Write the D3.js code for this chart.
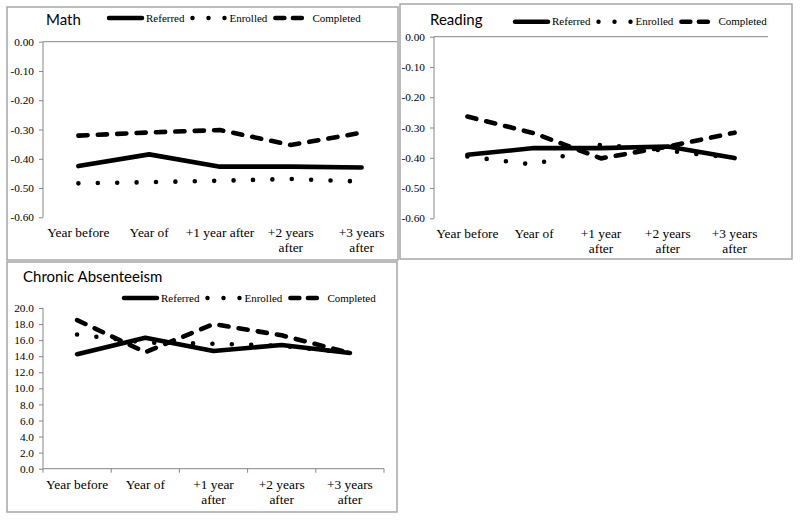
<!DOCTYPE html>
<html>
<head>
<meta charset="utf-8">
<script src="https://cdn.jsdelivr.net/npm/d3@7/dist/d3.min.js"></script>
<style>
  html, body { margin: 0; padding: 0; background: #fff; }
  svg { display: block; }
</style>
</head>
<body>
<script>
// ---------- DATA ----------
const categories = ["Year before", "Year of", "+1 year after", "+2 years after", "+3 years after"];
const seriesNames = ["Referred", "Enrolled", "Completed"];

const mathReferred  = [-0.425, -0.385, -0.427, -0.427, -0.430];
const mathEnrolled  = [-0.484, -0.480, -0.475, -0.469, -0.478];
const mathCompleted = [-0.321, -0.310, -0.302, -0.353, -0.311];

const readingReferred  = [-0.390, -0.368, -0.368, -0.363, -0.401];
const readingEnrolled  = [-0.396, -0.423, -0.357, -0.377, -0.401];
const readingCompleted = [-0.264, -0.319, -0.402, -0.363, -0.317];

const absentReferred  = [14.25, 16.3, 14.65, 15.4, 14.4];
const absentEnrolled  = [16.7, 15.7, 15.55, 15.3, 14.4];
const absentCompleted = [18.5, 14.5, 18.0, 16.6, 14.4];

const scoreTicks  = [0, -0.1, -0.2, -0.3, -0.4, -0.5, -0.6];
const absentTicks = [0, 2, 4, 6, 8, 10, 12, 14, 16, 18, 20];

// ---------- STYLES ----------
const serif = "'Liberation Serif', 'Times New Roman', serif";
const sans = "Lato, 'Noto Sans', sans-serif";
const axisColor = "#868686";
const styles = {
  Referred:  { dash: null,       sampleDash: null },
  Enrolled:  { dash: "0,19.4",   sampleDash: "0,16" },
  Completed: { dash: "9.2,10.2", sampleDash: "9,8.5" }
};

const svg = d3.select("body").append("svg")
  .attr("width", 800).attr("height", 521);

function wrapLabel(textSel, maxW) {
  textSel.each(function(d) {
    const t = d3.select(this);
    const words = d.split(" ");
    t.text(d);
    if (this.getComputedTextLength() <= maxW) return;
    t.text(null);
    let lines = [], cur = [];
    const probe = t.append("tspan");
    words.forEach(w => {
      const trial = cur.concat([w]).join(" ");
      probe.text(trial);
      if (probe.node().getComputedTextLength() > maxW && cur.length) {
        lines.push(cur.join(" "));
        cur = [w];
      } else cur.push(w);
    });
    lines.push(cur.join(" "));
    probe.remove();
    lines.forEach((ln, i) => {
      t.append("tspan").attr("x", t.attr("x")).attr("dy", i === 0 ? 0 : 14.5).text(ln);
    });
  });
}

function drawPanel(cfg) {
  const g = svg.append("g");
  // panel border
  g.append("rect")
    .attr("x", cfg.box[0]).attr("y", cfg.box[1])
    .attr("width", cfg.box[2]).attr("height", cfg.box[3])
    .attr("fill", "none").attr("stroke", "#a6a6a6").attr("stroke-width", 1.5);

  const x = d3.scaleBand().domain(categories).range([cfg.left, cfg.right]).padding(0);
  const y = d3.scaleLinear().domain(cfg.domain).range([cfg.bottom, cfg.top]);

  // y axis
  const yAxis = d3.axisLeft(y).tickValues(cfg.ticks).tickSize(4).tickPadding(5)
    .tickFormat(cfg.fmt);
  const ya = g.append("g").attr("transform", `translate(${cfg.left},0)`).call(yAxis);
  ya.select(".domain").attr("stroke", axisColor).attr("d", `M-0,${cfg.top}V${cfg.bottom}`);
  ya.selectAll(".tick line").attr("stroke", axisColor);
  ya.selectAll(".tick text").attr("font-family", serif).attr("font-size", 11.3).attr("fill", "#000");

  // x axis line at the zero value
  const xa = g.append("g").attr("transform", `translate(0,${y(0)})`);
  xa.append("line").attr("x1", cfg.left).attr("x2", cfg.right)
    .attr("stroke", axisColor).attr("stroke-width", 1);
  if (cfg.xTicks) {
    const bounds = categories.map(c => x(c)).concat([cfg.right]);
    xa.selectAll("line.tk").data(bounds).enter().append("line").attr("class", "tk")
      .attr("x1", d => d).attr("x2", d => d).attr("y1", 0).attr("y2", 4)
      .attr("stroke", axisColor);
  }

  // category labels (always at the bottom)
  const lab = g.append("g").selectAll("text").data(categories).enter().append("text")
    .attr("x", d => x(d) + x.bandwidth() / 2)
    .attr("y", cfg.labelY)
    .attr("text-anchor", "middle")
    .attr("font-family", serif).attr("font-size", 13.4).attr("fill", "#000");
  wrapLabel(lab, x.bandwidth() - 2);

  // series lines
  const line = d3.line()
    .x((d, i) => x(categories[i]) + x.bandwidth() / 2)
    .y(d => y(d));
  cfg.series.forEach((vals, k) => {
    const name = seriesNames[k];
    const p = g.append("path").datum(vals)
      .attr("d", line)
      .attr("fill", "none").attr("stroke", "#000")
      .attr("stroke-width", 4.6)
      .attr("stroke-linejoin", "round")
      .attr("stroke-linecap", "round");
    if (styles[name].dash) p.attr("stroke-dasharray", styles[name].dash);
  });

  // title
  g.append("text").attr("x", cfg.titleX).attr("y", cfg.titleY)
    .attr("font-family", sans).attr("font-size", 15).attr("fill", "#000")
    .text(cfg.title);

  // legend
  let lx = cfg.legendX;
  const ly = cfg.legendY;
  seriesNames.forEach(name => {
    const s = g.append("line")
      .attr("x1", lx).attr("x2", lx + 33).attr("y1", ly).attr("y2", ly)
      .attr("stroke", "#000").attr("stroke-width", 4.5).attr("stroke-linecap", "round");
    if (styles[name].sampleDash) s.attr("stroke-dasharray", styles[name].sampleDash);
    const t = g.append("text").attr("x", lx + 37).attr("y", ly + 3.6)
      .attr("font-family", serif).attr("font-size", 11).attr("fill", "#000")
      .text(name);
    lx = lx + 37 + t.node().getComputedTextLength() + 8;
  });
}

const fmt2 = d => d.toFixed(2);
const fmt1 = d => d.toFixed(1);

drawPanel({
  title: "Math", titleX: 46, titleY: 25,
  box: [7, 7, 391, 253],
  left: 43, right: 397, top: 41.7, bottom: 217.3,
  domain: [-0.6, 0], ticks: scoreTicks, fmt: fmt2,
  labelY: 237, legendX: 109, legendY: 18,
  series: [mathReferred, mathEnrolled, mathCompleted]
});

drawPanel({
  title: "Reading", titleX: 430, titleY: 24.5,
  box: [400, 4, 392, 255],
  left: 434, right: 768, top: 36.7, bottom: 218.3,
  domain: [-0.6, 0], ticks: scoreTicks, fmt: fmt2,
  labelY: 238, legendX: 515, legendY: 21.7,
  series: [readingReferred, readingEnrolled, readingCompleted]
});

drawPanel({
  title: "Chronic Absenteeism", titleX: 23, titleY: 282,
  box: [7, 262, 390, 250],
  left: 43, right: 384, top: 308, bottom: 468.7,
  domain: [0, 20], ticks: absentTicks, fmt: fmt1, xTicks: true,
  labelY: 489, legendX: 124, legendY: 298,
  series: [absentReferred, absentEnrolled, absentCompleted]
});
</script>
</body>
</html>
